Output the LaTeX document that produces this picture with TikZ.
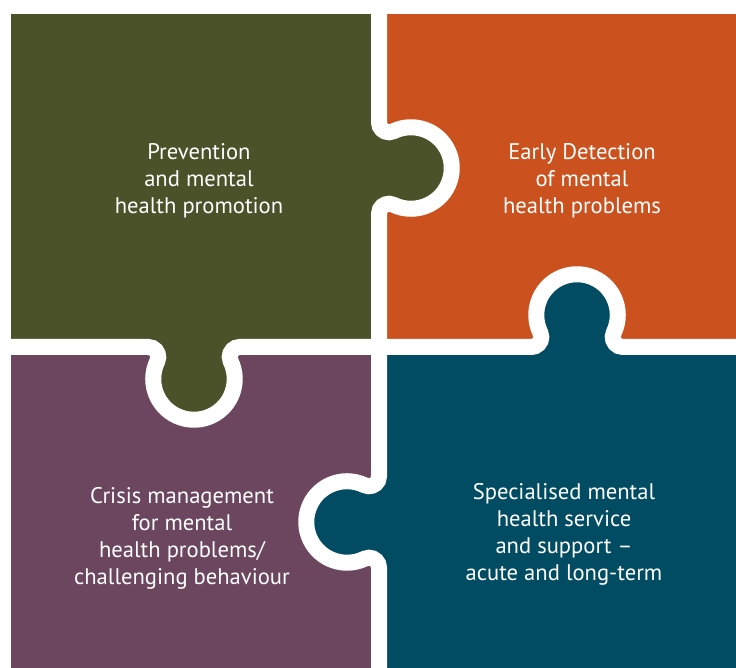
\documentclass[tikz,border=0pt]{standalone}
\usepackage{fontspec}
\usepackage{tikz}
\newfontfamily\piecefont[Ligatures=TeX]{PT Sans}

\definecolor{pieceolive}{HTML}{4B5129}
\definecolor{pieceorange}{HTML}{CB521F}
\definecolor{pieceplum}{HTML}{6B465E}
\definecolor{pieceteal}{HTML}{014C62}

\begin{document}
\begin{tikzpicture}[x=1pt,y=1pt,
		gap line/.style={draw=white,line width=16pt},
		piece text/.style={text=white,align=center,inner sep=0pt,
			font=\piecefont\fontsize{22.6}{27}\selectfont},
		knob/.style={insert path={
				arc[start angle=#1+180,end angle=#1+295.7,radius=10]
				arc[start angle=#1+115.7,end angle=#1-115.7,radius=40.75]
				arc[start angle=#1+64.3,end angle=#1+180,radius=10]}}]
	
	\fill[white] (0,0) rectangle (736,668);
	\useasboundingbox (0,0) rectangle (736,668);
	\coordinate (mid) at (379,321);
	
	% the four pieces
	\fill[pieceolive] (11,321) rectangle (379,654);
	\fill[pieceorange] (379,321) rectangle (736,654);
	\fill[pieceplum] (11,0) rectangle (379,321);
	\fill[pieceteal] (379,0) rectangle (736,321);
	
	% knobs
	\fill[pieceolive] (379,545.7) [knob=0] -- cycle;
	\fill[pieceteal] (379,100.3) [knob=180] -- cycle;
	\fill[pieceolive] (239.7,321) [knob=270] -- cycle;
	\fill[pieceteal] (531.3,321) [knob=90] -- cycle;
	
	% white gaps
	\draw[gap line] (379,680) -- (379,545.7) [knob=0] -- (mid);
	\draw[gap line] (379,-12) -- (379,100.3) [knob=180] -- (mid);
	\draw[gap line] (mid) -- (239.7,321) [knob=270] -- (-12,321);
	\draw[gap line] (mid) -- (531.3,321) [knob=90] -- (750,321);
	
	\node[piece text] (prevention) at (199,487) {Prevention\\and mental\\health promotion};
	\node[piece text] (detection) at (582,487) {Early Detection\\of mental\\health problems};
	\node[piece text] (crisis) at (182,129.5) {Crisis management\\for mental\\health problems/\\challenging behaviour};
	\node[piece text] (specialised) at (564,133.5) {Specialised mental\\health service\\and support –\\acute and long-term};
\end{tikzpicture}
\end{document}
